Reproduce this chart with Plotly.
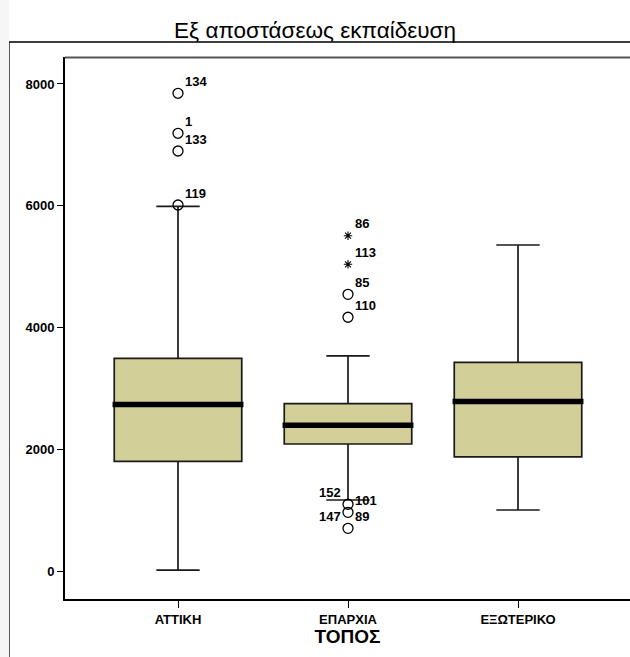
import plotly.graph_objects as go

# ---------------- data ----------------
categories = ["ΑΤΤΙΚΗ", "ΕΠΑΡΧΙΑ", "ΕΞΩΤΕΡΙΚΟ"]
q1 = [1800, 2086, 1873]
median = [2735, 2395, 2784]
q3 = [3492, 2750, 3428]
lower_whisker = [15, 1166, 1002]
upper_whisker = [5990, 3533, 5355]

# outliers: category index, value, marker kind
out_cat = [0, 0, 0, 0, 1, 1, 1, 1, 1, 1, 1]
out_val = [7847, 7190, 6899, 6012, 5508, 5038, 4545, 4168, 1096, 964, 701]
out_kind = ["o", "o", "o", "o", "*", "*", "o", "o", "o", "o", "o"]

# case labels: category index, value of the case, label
lab_cat = [0, 0, 0, 0, 1, 1, 1, 1, 1, 1, 1, 1]
lab_val = [7847, 7190, 6899, 6012, 5508, 5038, 4545, 4168, 1096, 964, 701, 701]
lab_text = ["134", "1", "133", "119", "86", "113", "85", "110", "152", "101", "147", "89"]
lab_side = ["r", "r", "r", "r", "r", "r", "r", "r", "l", "r", "l", "r"]

yticks = [0, 2000, 4000, 6000, 8000]

title_text = "Εξ αποστάσεως εκπαίδευση"
xtitle = "ΤΟΠΟΣ"

# ---------------- style ----------------
FONT = "Liberation Sans, Arial, sans-serif"
BOX_FILL = "#D3CF98"
BOX_W = 0.75

xpos = list(range(len(categories)))

fig = go.Figure()

fig.add_trace(go.Box(
    x=xpos, q1=q1, median=median, q3=q3,
    lowerfence=lower_whisker, upperfence=upper_whisker,
    width=BOX_W, whiskerwidth=0.34,
    fillcolor=BOX_FILL, line=dict(color="#1a1a1a", width=1.7),
    boxpoints=False, showlegend=False, hoverinfo="skip",
))

# thick median lines
for i, m in enumerate(median):
    fig.add_trace(go.Scatter(
        x=[xpos[i] - BOX_W / 2 - 0.01, xpos[i] + BOX_W / 2 + 0.01], y=[m, m],
        mode="lines", line=dict(color="black", width=5.5),
        showlegend=False, hoverinfo="skip",
    ))

# outliers
circ_x = [out_cat[i] for i in range(len(out_val)) if out_kind[i] == "o"]
circ_y = [out_val[i] for i in range(len(out_val)) if out_kind[i] == "o"]
star_x = [out_cat[i] for i in range(len(out_val)) if out_kind[i] == "*"]
star_y = [out_val[i] for i in range(len(out_val)) if out_kind[i] == "*"]
fig.add_trace(go.Scatter(
    x=circ_x, y=circ_y, mode="markers",
    marker=dict(symbol="circle-open", size=10, color="black", line=dict(width=1.3)),
    showlegend=False, hoverinfo="skip",
))
fig.add_trace(go.Scatter(
    x=star_x, y=star_y, mode="markers",
    marker=dict(symbol="asterisk-open", size=7, color="black", line=dict(width=1.1, color="black")),
    showlegend=False, hoverinfo="skip",
))

for c, v, t, s in zip(lab_cat, lab_val, lab_text, lab_side):
    fig.add_annotation(
        x=c, y=v, text=t, showarrow=False,
        xanchor="left" if s == "r" else "right", yanchor="middle",
        xshift=5 if s == "r" else -5, yshift=12,
        font=dict(family=FONT, size=13, color="black", weight="bold"),
    )

W, H = 630, 657
L, R, T, B = 65, 0, 57, 58
pw, ph = W - L - R, H - T - B

# outer frame
fig.add_shape(type="rect", xref="paper", yref="paper",
              x0=(9 - L) / pw, x1=1.05, y0=-0.3, y1=(H - B - 42) / ph,
              line=dict(color="black", width=1.3), fillcolor="rgba(0,0,0,0)", layer="below")
# light strip at the left
fig.add_shape(type="rect", xref="paper", yref="paper",
              x0=-L / pw, x1=(9 - L) / pw, y0=-0.3, y1=1.2,
              line=dict(width=0), fillcolor="#f6f6f6", layer="below")
# top border of plot area (gray)
fig.add_shape(type="line", xref="paper", yref="paper", x0=0, x1=1.01, y0=0.999, y1=0.999,
              line=dict(color="#555555", width=2), layer="above")

fig.update_layout(
    width=W, height=H,
    margin=dict(l=L, r=R, t=T, b=B),
    paper_bgcolor="white", plot_bgcolor="white",
    title=dict(text=title_text, x=0.5, xanchor="center", xref="container",
               y=1 - 30 / H, yanchor="middle", yref="container",
               font=dict(family=FONT, size=22.5, color="black")),
    xaxis=dict(
        range=[(L - 178) / 170, (W - 178) / 170],
        tickmode="array", tickvals=xpos, ticktext=categories,
        ticks="outside", ticklen=7, tickcolor="black", tickwidth=1,
        showline=True, linecolor="black", linewidth=1.8,
        showgrid=False, zeroline=False,
        tickfont=dict(family=FONT, size=13, color="black", weight="bold"),
        title=dict(text=xtitle, standoff=2,
                   font=dict(family=FONT, size=19, color="black", weight="bold")),
    ),
    yaxis=dict(
        range=[-460, 8443],
        tickmode="array", tickvals=yticks, ticktext=[str(v) for v in yticks],
        ticks="outside", ticklen=6, tickcolor="black", tickwidth=1,
        showline=True, linecolor="black", linewidth=1.8,
        showgrid=False, zeroline=False,
        tickfont=dict(family=FONT, size=13, color="black", weight="bold"),
    ),
)

fig.write_html("out.html")
